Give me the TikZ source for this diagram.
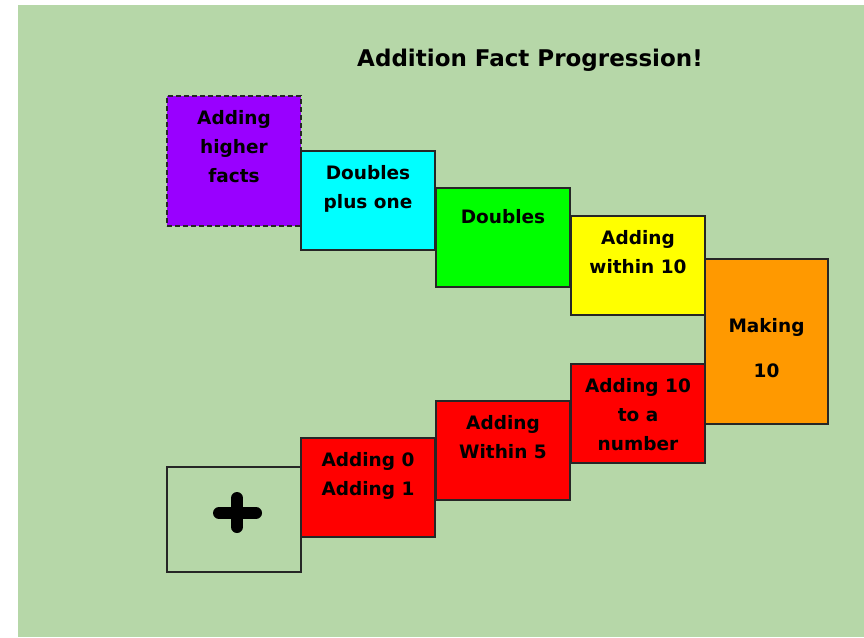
\documentclass[tikz,border=0pt]{standalone}
\usepackage{fontspec}
\setmainfont{DejaVu Sans}
\usetikzlibrary{positioning}
\definecolor{bgreen}{HTML}{B6D7A8}
\definecolor{fpurple}{HTML}{9900FF}
\definecolor{forange}{HTML}{FF9900}
\definecolor{fcyan}{HTML}{00FFFF}
\definecolor{fyellow}{HTML}{FFFF00}
\definecolor{fgreen}{HTML}{00FF00}
\definecolor{fred}{HTML}{FF0000}
\tikzset{
  factbox/.style={draw=black!85, line width=1.6pt, anchor=north west, inner sep=0pt,
    outer sep=0pt, minimum width=134pt, minimum height=99pt},
  facttext/.style={align=center, inner sep=0pt, font=\bfseries\fontsize{18.5}{29}\selectfont,
    execute at begin node=\strut},
  plusbar/.style={line width=12pt, line cap=round},
}

\begin{document}
\begin{tikzpicture}[x=1pt,y=-1pt]
\useasboundingbox (0,0) rectangle (864,637);
\fill[bgreen] (18,5) rectangle (864,637);
\node[font=\bfseries\fontsize{23}{27}\selectfont] (title) at (530,60) {Addition Fact Progression!};
% the steps
\node[factbox, fill=fpurple, dash pattern=on 5pt off 3pt, minimum height=130pt] (higher) at (167,96) {};
\node[factbox, fill=fcyan] (dblplus) at (301,151) {};
\node[factbox, fill=fgreen] (doubles) at (436,188) {};
\node[factbox, fill=fyellow] (within10) at (571,216) {};
\node[factbox, fill=forange, minimum width=123pt, minimum height=165pt] (making) at (705,259) {};
\node[factbox, fill=fred] (add10) at (571,364) {};
\node[factbox, fill=fred] (within5) at (436,401) {};
\node[factbox, fill=fred] (add01) at (301,438) {};
\node[factbox, minimum height=105pt] (plus) at (167,467) {};
% texts
\node[facttext, below=14.7pt of higher.north] (higherlbl) {Adding\\higher\\facts};
\node[facttext, below=14.7pt of dblplus.north] (dblpluslbl) {Doubles\\plus one};
\node[facttext, below=14.7pt of doubles.north] (doubleslbl) {Doubles};
\node[facttext, below=14.7pt of within10.north] (within10lbl) {Adding\\within 10};
\node[facttext, below=59.7pt of making.north] (makinglbl) {Making\\[16pt]10};
\node[facttext, below=14.7pt of add10.north] (add10lbl) {Adding 10\\to a\\number};
\node[facttext, below=14.7pt of within5.north] (within5lbl) {Adding\\Within 5};
\node[facttext, below=14.7pt of add01.north] (add01lbl) {Adding 0\\Adding 1};
\draw[plusbar] ([xshift=-15pt,yshift=6.5pt]plus.center) -- ([xshift=22pt,yshift=6.5pt]plus.center);
\draw[plusbar] ([xshift=3pt,yshift=21.5pt]plus.center) -- ([xshift=3pt,yshift=-7.5pt]plus.center);
\end{tikzpicture}
\end{document}
